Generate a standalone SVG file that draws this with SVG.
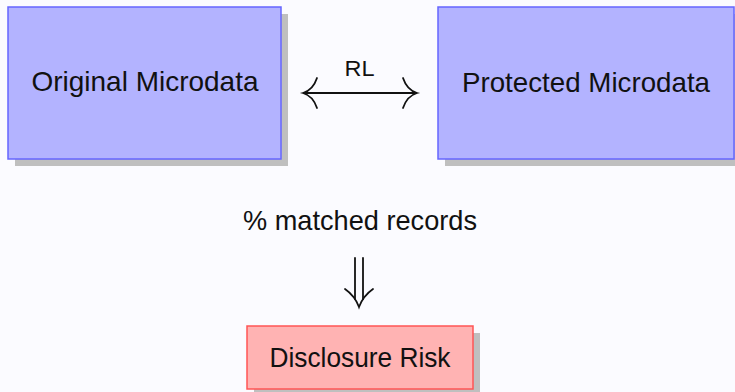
<svg xmlns="http://www.w3.org/2000/svg" width="735" height="392" viewBox="0 0 735 392">
  <style>
    .shadow { fill: #bfbfbf; }
    .blue { fill: #b3b3ff; stroke: #6666ff; stroke-width: 1.5; }
    .red { fill: #ffb3b3; stroke: #ff5555; stroke-width: 1.5; }
    .label { font-family: "Liberation Sans", "DejaVu Sans", sans-serif; font-size: 28px; fill: #111; text-anchor: middle; }
    .small { font-size: 22px; }
    .conn { fill: none; stroke: #111; stroke-width: 1.8; stroke-linecap: round; }
  </style>
  <rect width="735" height="392" fill="#fbfbff"/>

  <g id="original">
    <rect class="shadow" x="15" y="14" width="273" height="152"/>
    <rect class="blue" x="8" y="7" width="273" height="152"/>
    <text class="label" x="145" y="91" textLength="227" lengthAdjust="spacingAndGlyphs">Original Microdata</text>
  </g>

  <g id="protected">
    <rect class="shadow" x="445" y="14" width="296" height="152"/>
    <rect class="blue" x="438" y="7" width="296" height="152"/>
    <text class="label" x="586" y="92" textLength="248" lengthAdjust="spacingAndGlyphs">Protected Microdata</text>
  </g>

  <g id="risk">
    <rect class="shadow" x="254" y="333" width="226" height="63"/>
    <rect class="red" x="247" y="326" width="226" height="63"/>
    <text class="label" x="360" y="367" textLength="181" lengthAdjust="spacingAndGlyphs">Disclosure Risk</text>
  </g>

  <g id="connectors">
    <!-- RL: two-headed link between the microdata sets -->
    <line class="conn" x1="304" y1="93" x2="416" y2="93"/>
    <path class="conn" d="M317,78 Q313,90 303,93 Q313,96 317,108"/>
    <path class="conn" d="M403,78 Q407,90 417,93 Q407,96 403,108"/>
    <text class="label small" x="359.5" y="75.5" textLength="30" lengthAdjust="spacingAndGlyphs">RL</text>

    <!-- matched records lead to the risk measure -->
    <text class="label" x="360" y="230" textLength="234" lengthAdjust="spacingAndGlyphs">% matched records</text>
    <line class="conn" x1="355" y1="258" x2="355" y2="299"/>
    <line class="conn" x1="363" y1="258" x2="363" y2="299"/>
    <path class="conn" d="M345,289 Q355,296 359,307 Q363,296 373,289"/>
  </g>
</svg>
